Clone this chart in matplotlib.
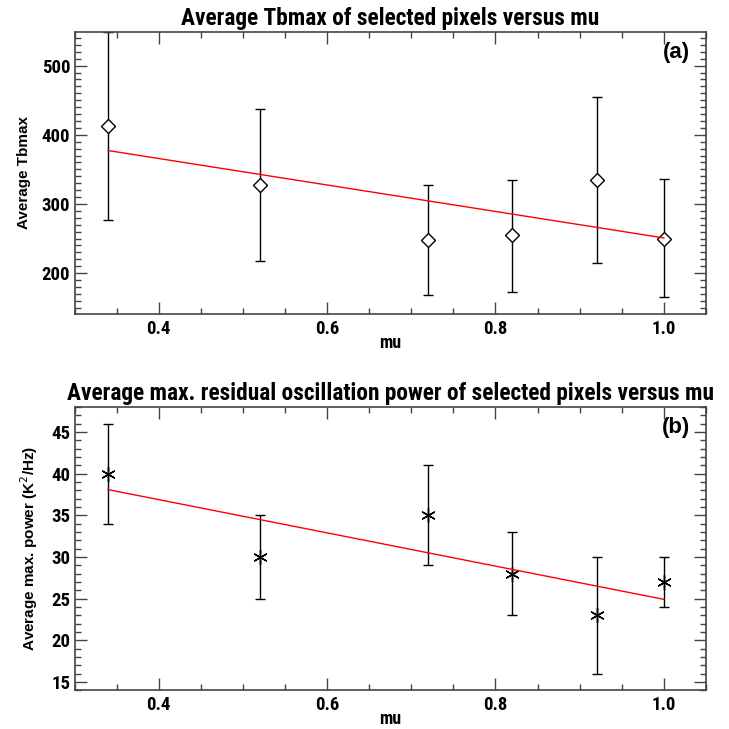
import numpy as np
import matplotlib
matplotlib.use("Agg")
import matplotlib.pyplot as plt
from matplotlib.ticker import MultipleLocator

mu = [0.34, 0.52, 0.72, 0.82, 0.92, 1.0]

tbmax = [412, 328, 248, 255, 334, 250]
tbmax_lo = [277, 217, 168, 173, 214, 166]
tbmax_hi = [548, 438, 328, 335, 454, 336]

power = [40, 30, 35, 28, 23, 27]
power_lo = [34, 25, 29, 23, 16, 24]
power_hi = [46, 35, 41, 33, 30, 30]

narrow = ['Roboto Condensed', 'Liberation Sans']
wide = ['Liberation Sans', 'DejaVu Sans']
axcol = '#444444'

fig = plt.figure(figsize=(7.29, 7.29), dpi=100)
ax1 = fig.add_axes([0.1022, 0.5693, 0.8662, 0.3872])
ax2 = fig.add_axes([0.1022, 0.0531, 0.8662, 0.3886])


def draw(ax, y, lo, hi, marker, ms, title, ylabel, tag, ylim, major, minor):
    y = np.array(y)
    err = [y - np.array(lo), np.array(hi) - y]
    ax.errorbar(mu, y, yerr=err, fmt='none', ecolor='black', elinewidth=1,
                capsize=3.5, capthick=1)
    ax.plot(mu, y, linestyle='none', marker=marker, markersize=ms,
            markerfacecolor='white', markeredgecolor='black',
            markeredgewidth=1, zorder=3)
    # linear fit
    p = np.polyfit(mu, y, 1)
    xf = np.array([mu[0], mu[-1]])
    ax.plot(xf, np.polyval(p, xf), color='red', linewidth=1, zorder=4)

    ax.set_xlim(0.3, 1.05)
    ax.set_ylim(*ylim)
    ax.xaxis.set_major_locator(MultipleLocator(0.2))
    ax.xaxis.set_minor_locator(MultipleLocator(0.05))
    ax.yaxis.set_major_locator(MultipleLocator(major))
    ax.yaxis.set_minor_locator(MultipleLocator(minor))
    ax.xaxis.set_major_formatter(plt.FormatStrFormatter('%.1f'))
    ax.tick_params(which='both', direction='in', top=True, right=True,
                   color=axcol, width=1)
    ax.tick_params(which='major', length=8.5)
    ax.tick_params(which='minor', length=4.3)
    ax.tick_params(axis='x', pad=4)
    ax.tick_params(axis='y', pad=3)
    for lab in ax.get_xticklabels() + ax.get_yticklabels():
        lab.set_family(narrow)
        lab.set_fontweight('bold')
        lab.set_fontsize(13.5)
    for s in ax.spines.values():
        s.set_color(axcol)
        s.set_linewidth(1.2)
    ax.set_title(title, family=narrow, fontweight='bold', fontsize=16.8, pad=5)
    ax.set_xlabel('mu', family=narrow, fontweight='bold', fontsize=13,
                  labelpad=-2.5)
    ax.set_ylabel(ylabel, family=wide, fontweight='bold', fontsize=11,
                  labelpad=8)
    ax.text(0.975, 0.928, tag, transform=ax.transAxes, ha='right',
            va='center', family=wide, fontweight='bold', fontsize=16)


draw(ax1, tbmax, tbmax_lo, tbmax_hi, 'D', 7,
     'Average Tbmax of selected pixels versus mu', 'Average Tbmax', '(a)',
     (141, 549), 100, 10)
draw(ax2, power, power_lo, power_hi, (6, 2, 0), 10.5,
     'Average max. residual oscillation power of selected pixels versus mu',
     'Average max. power (K$^2$/Hz)', '(b)', (14, 48), 5, 1)

fig.savefig('out.png', dpi=100)
